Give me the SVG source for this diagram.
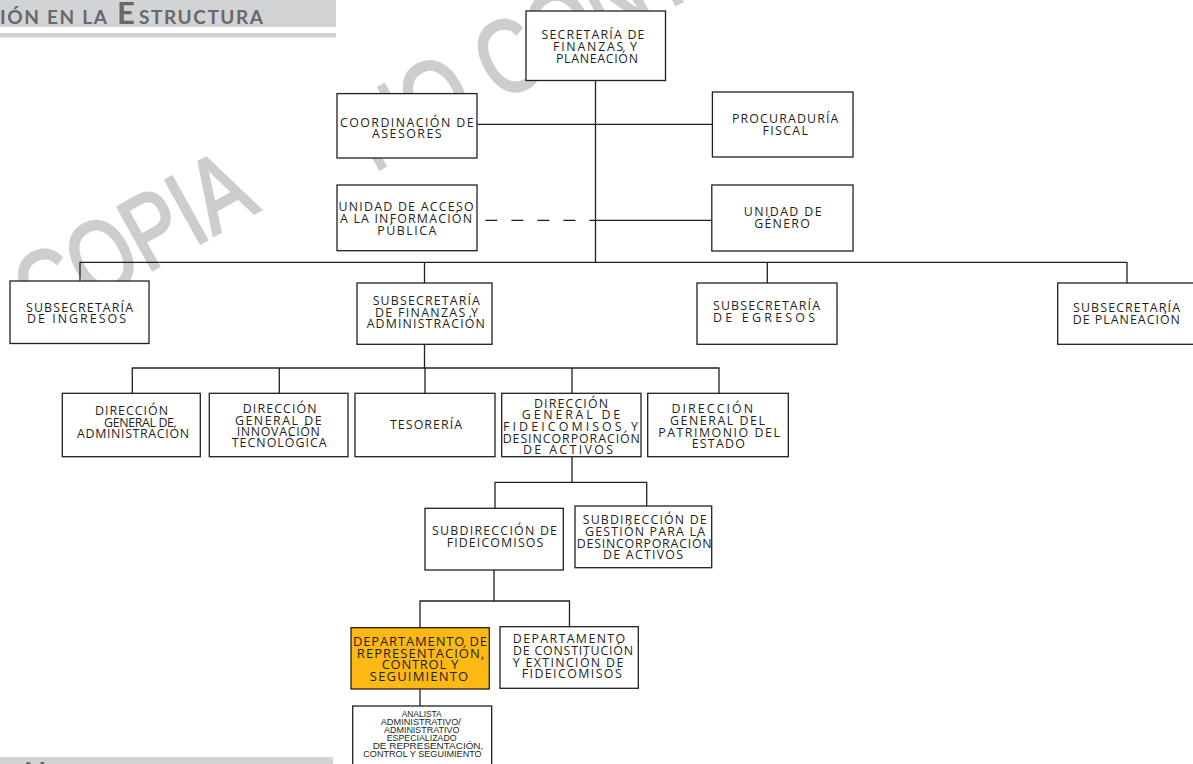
<svg xmlns="http://www.w3.org/2000/svg" width="1193" height="764" viewBox="0 0 1193 764">
<style>
.box{fill:#fff;stroke:#231f20;stroke-width:1.3}
.hl{fill:#fdb913;stroke:#231f20;stroke-width:1.3}
.ln{fill:none;stroke:#231f20;stroke-width:1.3}
.dash{fill:none;stroke:#231f20;stroke-width:1.3;stroke-dasharray:12 14}
.t{font-family:"Open Sans","Noto Sans",sans-serif;font-size:12.4px;fill:#231f20;text-anchor:middle}
.t2{font-family:"Open Sans","Noto Sans",sans-serif;font-size:13px;fill:#231f20;text-anchor:middle}
.s{font-family:"Liberation Sans",Arial,sans-serif;font-size:9.6px;fill:#231f20;text-anchor:middle}
.hd{font-family:"Lato","Open Sans",sans-serif;font-weight:bold;fill:#67686b}
.wm{font-family:"Liberation Sans",Arial,sans-serif;font-size:104px;fill:#cdcdcd;stroke:#cdcdcd;stroke-width:3}
</style>
<rect x="0" y="0" width="336" height="27" fill="#d1d3d4"/>
<rect x="0" y="33" width="336" height="4.5" fill="#d1d3d4"/>
<text class="hd" y="24.3"><tspan x="0" font-size="19" textLength="107" lengthAdjust="spacing">IÓN EN LA</tspan><tspan x="117" font-size="31">E</tspan><tspan x="139" font-size="19" textLength="124" lengthAdjust="spacing">STRUCTURA</tspan></text>
<rect x="0" y="757" width="333" height="7" fill="#d1d3d4"/>
<text class="hd" x="24" y="782.5" font-size="29">N</text>
<text class="wm" transform="translate(40,332) rotate(-29) scale(0.78,1)">COPIA<tspan dx="150" dy="22">NO CONTROLADA</tspan></text>

<g id="connectors">
<path class="ln" d="M595.5 80V262M477 124.3H712M595.5 220.3H712M80 281V262.3H1127V283M424.5 262.3V283M767.3 262.3V283"/>
<path class="dash" d="M485.4 220.3H595"/>
<path class="ln" d="M424.5 344V368M132.3 393V368H719V393M279.3 368V393M425 368V393M572 368V393"/>
<path class="ln" d="M572 457V482.3M495 508V482.3H646.7V506"/>
<path class="ln" d="M494 570V601M420 628V601H569.5V627M420 689V706"/>
</g>

<g id="n-secretaria"><rect class="box" x="526" y="11" width="139.5" height="69.5"/>
<text class="t"><tspan x="593" y="39.3" textLength="103" lengthAdjust="spacing">SECRETARÍA  DE</tspan><tspan x="595" y="50.9" textLength="84" lengthAdjust="spacing">FINANZAS Y</tspan><tspan x="597" y="62.5" textLength="82" lengthAdjust="spacing">PLANEACIÓN</tspan></text></g>

<g id="n-coordinacion"><rect class="box" x="337" y="93.6" width="140" height="64.4"/>
<text class="t"><tspan x="406.8" y="126.7" textLength="133.6" lengthAdjust="spacing">COORDINACIÓN   DE</tspan><tspan x="406.8" y="138.3" textLength="69.5" lengthAdjust="spacing">ASESORES</tspan></text></g>

<g id="n-procuraduria"><rect class="box" x="712.4" y="92" width="140.6" height="65"/>
<text class="t"><tspan x="785.2" y="123.3" textLength="106.4" lengthAdjust="spacing">PROCURADURÍA</tspan><tspan x="785.2" y="134.8" textLength="45.6" lengthAdjust="spacing">FISCAL</tspan></text></g>

<g id="n-acceso"><rect class="box" x="337" y="185" width="140" height="65.7"/>
<text class="t"><tspan x="406" y="211" textLength="135.2" lengthAdjust="spacing">UNIDAD DE ACCESO</tspan><tspan x="406" y="223.2" textLength="132" lengthAdjust="spacing">A LA INFORMACIÓN</tspan><tspan x="406.8" y="235.4" textLength="59" lengthAdjust="spacing">PÚBLICA</tspan></text></g>

<g id="n-genero"><rect class="box" x="711.8" y="185" width="141.2" height="66"/>
<text class="t"><tspan x="782.7" y="216.2" textLength="77.7" lengthAdjust="spacing">UNIDAD  DE</tspan><tspan x="782" y="228" textLength="55.7" lengthAdjust="spacing">GÉNERO</tspan></text></g>

<g id="n-ingresos"><rect class="box" x="10" y="281" width="139" height="62.5"/>
<text class="t"><tspan x="79.5" y="311.7" textLength="107" lengthAdjust="spacing">SUBSECRETARÍA</tspan><tspan x="76.5" y="323.3" textLength="99" lengthAdjust="spacing">DE   INGRESOS</tspan></text></g>

<g id="n-sfa"><rect class="box" x="357" y="283" width="135" height="61.3"/>
<text class="t"><tspan x="426.3" y="305" textLength="107.3" lengthAdjust="spacing">SUBSECRETARÍA</tspan><tspan x="426.5" y="316.7" textLength="103" lengthAdjust="spacing">DE FINANZAS Y</tspan><tspan x="425.8" y="328.3" textLength="118.3" lengthAdjust="spacing">ADMINISTRACIÓN</tspan></text></g>

<g id="n-egresos"><rect class="box" x="697" y="283" width="140" height="61.3"/>
<text class="t"><tspan x="766.5" y="310.3" textLength="107" lengthAdjust="spacing">SUBSECRETARÍA</tspan><tspan x="764" y="322" textLength="102" lengthAdjust="spacing">DE   EGRESOS</tspan></text></g>

<g id="n-planeacion"><rect class="box" x="1057.7" y="283" width="145" height="61.3"/>
<text class="t"><tspan x="1126.5" y="312" textLength="107" lengthAdjust="spacing">SUBSECRETARÍA</tspan><tspan x="1126.3" y="323.5" textLength="107.3" lengthAdjust="spacing">DE  PLANEACIÓN</tspan></text></g>

<g id="n-dga"><rect class="box" x="62.3" y="393.3" width="138" height="63.4"/>
<text class="t"><tspan x="131.5" y="415" textLength="73" lengthAdjust="spacing">DIRECCIÓN</tspan><tspan x="139" y="426.7" textLength="70" lengthAdjust="spacing">GENERAL  DE</tspan><tspan x="133" y="438.3" textLength="112" lengthAdjust="spacing">ADMINISTRACIÓN</tspan></text></g>

<g id="n-dgi"><rect class="box" x="209.3" y="393.3" width="138.7" height="63.4"/>
<text class="t"><tspan x="279.7" y="413.3" textLength="74" lengthAdjust="spacing">DIRECCIÓN</tspan><tspan x="278.3" y="424.7" textLength="86.7" lengthAdjust="spacing">GENERAL  DE</tspan><tspan x="278.3" y="436" textLength="83.3" lengthAdjust="spacing">INNOVACIÓN</tspan><tspan x="279.2" y="447.3" textLength="95" lengthAdjust="spacing">TECNOLÓGICA</tspan></text></g>

<g id="n-tesoreria"><rect class="box" x="355" y="393.3" width="140" height="63.4"/>
<text class="t"><tspan x="426" y="429" textLength="72" lengthAdjust="spacing">TESORERÍA</tspan></text></g>

<g id="n-dgf"><rect class="box" x="501.7" y="393.3" width="139.3" height="63.4"/>
<text class="t"><tspan x="571" y="407.7" textLength="74" lengthAdjust="spacing">DIRECCIÓN</tspan><tspan x="571" y="419.3" textLength="98.3" lengthAdjust="spacing">GENERAL   DE</tspan><tspan x="570.5" y="431" textLength="135" lengthAdjust="spacing">FIDEICOMISOS   Y</tspan><tspan x="571.3" y="443.3" textLength="137.3" lengthAdjust="spacing">DESINCORPORACIÓN</tspan><tspan x="568" y="454.3" textLength="90" lengthAdjust="spacing">DE  ACTIVOS</tspan></text></g>

<g id="n-dgp"><rect class="box" x="647.7" y="393.3" width="140.6" height="63.4"/>
<text class="t"><tspan x="712.3" y="413.3" textLength="81.7" lengthAdjust="spacing">DIRECCIÓN</tspan><tspan x="717.5" y="425" textLength="95" lengthAdjust="spacing">GENERAL   DEL</tspan><tspan x="719" y="437.3" textLength="121.7" lengthAdjust="spacing">PATRIMONIO   DEL</tspan><tspan x="718.3" y="448.3" textLength="53.3" lengthAdjust="spacing">ESTADO</tspan></text></g>

<g id="n-sf"><rect class="box" x="425" y="508.3" width="138.3" height="61.7"/>
<text class="t"><tspan x="494.5" y="535" textLength="125" lengthAdjust="spacing">SUBDIRECCIÓN   DE</tspan><tspan x="495" y="546.7" textLength="96.7" lengthAdjust="spacing">FIDEICOMISOS</tspan></text></g>

<g id="n-sg"><rect class="box" x="575" y="506" width="136.7" height="61.7"/>
<text class="t"><tspan x="644.7" y="524.3" textLength="124" lengthAdjust="spacing">SUBDIRECCIÓN   DE</tspan><tspan x="645" y="536" textLength="120" lengthAdjust="spacing">GESTIÓN PARA LA</tspan><tspan x="644.2" y="547.7" textLength="135" lengthAdjust="spacing">DESINCORPORACIÓN</tspan><tspan x="643" y="559.3" textLength="80" lengthAdjust="spacing">DE  ACTIVOS</tspan></text></g>

<g id="n-dr"><rect class="hl" x="351" y="627.7" width="138.3" height="61.3"/>
<text class="t2"><tspan x="420" y="646" textLength="134" lengthAdjust="spacing">DEPARTAMENTO  DE</tspan><tspan x="420.5" y="657.7" textLength="127.3" lengthAdjust="spacing">REPRESENTACIÓN,</tspan><tspan x="420" y="669.3" textLength="76.7" lengthAdjust="spacing">CONTROL Y</tspan><tspan x="419" y="681" textLength="98.3" lengthAdjust="spacing">SEGUIMIENTO</tspan></text></g>

<g id="n-dc"><rect class="box" x="500" y="626.7" width="138.3" height="61.6"/>
<text class="t"><tspan x="569" y="643.3" textLength="112.3" lengthAdjust="spacing">DEPARTAMENTO</tspan><tspan x="573" y="655" textLength="120" lengthAdjust="spacing">DE   CONSTITUCIÓN</tspan><tspan x="568" y="666.7" textLength="110.7" lengthAdjust="spacing">Y  EXTINCIÓN  DE</tspan><tspan x="571.7" y="678.3" textLength="100" lengthAdjust="spacing">FIDEICOMISOS</tspan></text></g>

<g id="n-analista"><rect class="box" x="352.7" y="706" width="139" height="70"/>
<text class="s"><tspan x="421.7" y="716.5" textLength="40" lengthAdjust="spacingAndGlyphs">ANALISTA</tspan><tspan x="420.8" y="724.6" textLength="80.3" lengthAdjust="spacingAndGlyphs">ADMINISTRATIVO/</tspan><tspan x="421.7" y="732.6" textLength="75.3" lengthAdjust="spacingAndGlyphs">ADMINISTRATIVO</tspan><tspan x="421.7" y="740.6" textLength="70" lengthAdjust="spacingAndGlyphs">ESPECIALIZADO</tspan><tspan x="428" y="748.6" textLength="110.6" lengthAdjust="spacingAndGlyphs">DE REPRESENTACIÓN,</tspan><tspan x="422.5" y="756.6" textLength="118.4" lengthAdjust="spacingAndGlyphs">CONTROL Y SEGUIMIENTO</tspan></text></g>
</svg>
